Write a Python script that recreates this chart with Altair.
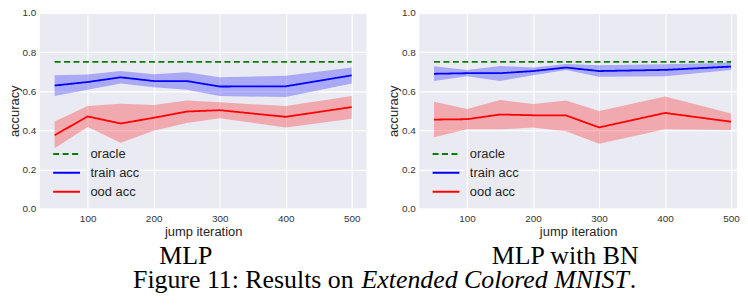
import altair as alt
import pandas as pd

iters = [50, 100, 150, 200, 250, 300, 400, 500]
oracle_acc = 0.75

# MLP
mlp_train = [0.629, 0.647, 0.671, 0.652, 0.652, 0.624, 0.625, 0.681]
mlp_train_hi = [0.682, 0.686, 0.703, 0.687, 0.697, 0.671, 0.679, 0.721]
mlp_train_lo = [0.576, 0.608, 0.640, 0.620, 0.608, 0.575, 0.570, 0.639]
mlp_ood = [0.375, 0.471, 0.435, 0.464, 0.496, 0.503, 0.469, 0.519]
mlp_ood_hi = [0.445, 0.524, 0.536, 0.529, 0.553, 0.543, 0.524, 0.576]
mlp_ood_lo = [0.308, 0.417, 0.336, 0.398, 0.437, 0.462, 0.415, 0.459]

# MLP with BN
bn_train = [0.689, 0.692, 0.692, 0.703, 0.721, 0.703, 0.709, 0.726]
bn_train_hi = [0.728, 0.708, 0.729, 0.721, 0.739, 0.733, 0.738, 0.746]
bn_train_lo = [0.652, 0.677, 0.652, 0.682, 0.709, 0.674, 0.676, 0.708]
bn_ood = [0.455, 0.457, 0.481, 0.477, 0.476, 0.415, 0.489, 0.444]
bn_ood_hi = [0.546, 0.509, 0.555, 0.534, 0.553, 0.499, 0.573, 0.486]
bn_ood_lo = [0.365, 0.405, 0.405, 0.415, 0.395, 0.331, 0.405, 0.402]

series_names = ["oracle", "train acc", "ood acc"]
series_colors = ["green", "blue", "red"]
x_ticks = [100, 200, 300, 400, 500]
y_ticks = [0.0, 0.2, 0.4, 0.6, 0.8, 1.0]

sub_left = "MLP"
sub_right = "MLP with BN"
cap_plain = "Figure 11: Results on"
cap_italic = "Extended Colored MNIST"
cap_end = "."

SANS = "Liberation Sans"
SERIF = "Liberation Serif"

LEG = alt.Legend(
    title=None, orient="none", legendX=19, legendY=134,
    symbolType="M-2,0L2,0", symbolSize=182, symbolStrokeWidth=2,
    labelFont=SANS, labelFontSize=13, labelColor="#262626",
    padding=0, labelOffset=16, rowPadding=4,
)


def panel(train, train_lo, train_hi, ood, ood_lo, ood_hi, xmax, width, texts):
    n = len(iters)
    lines = pd.DataFrame({
        "iter": iters * 3,
        "acc": [oracle_acc] * n + train + ood,
        "series": ["oracle"] * n + ["train acc"] * n + ["ood acc"] * n,
    })
    bands = pd.DataFrame({
        "iter": iters * 2,
        "lo": train_lo + ood_lo,
        "hi": train_hi + ood_hi,
        "series": ["train acc"] * n + ["ood acc"] * n,
    })
    xenc = alt.X(
        "iter:Q",
        scale=alt.Scale(domain=[27.5, xmax], nice=False, zero=False),
        axis=alt.Axis(values=x_ticks, title="jump iteration"),
    )
    yscale = alt.Scale(domain=[0, 1], nice=False)
    yaxis = alt.Axis(values=y_ticks, format=".1f", title="accuracy", labelOverlap=False)
    band = alt.Chart(bands).mark_area(opacity=0.28).encode(
        x=xenc,
        y=alt.Y("lo:Q", scale=yscale, axis=yaxis),
        y2="hi:Q",
        fill=alt.Fill("series:N",
                      scale=alt.Scale(domain=["train acc", "ood acc"], range=["blue", "red"]),
                      legend=None),
    )
    line = alt.Chart(lines).mark_line(strokeWidth=1.8).encode(
        x=xenc,
        y=alt.Y("acc:Q", scale=yscale, axis=yaxis),
        color=alt.Color("series:N",
                        scale=alt.Scale(domain=series_names, range=series_colors),
                        legend=LEG),
        strokeDash=alt.StrokeDash("series:N",
                                  scale=alt.Scale(domain=series_names,
                                                  range=[[6, 3.5], [1, 0], [1, 0]]),
                                  legend=LEG),
    )
    layers = [band, line] + texts
    return alt.layer(*layers).properties(width=width, height=197)


def txt(s, x, y, align, style="normal"):
    return alt.Chart(pd.DataFrame({"t": [s]})).mark_text(
        font=SERIF, fontSize=26, align=align, baseline="alphabetic",
        color="black", fontStyle=style,
    ).encode(text="t:N", x=alt.value(x), y=alt.value(y))


left_texts = [
    txt(sub_left, 147, 253, "center"),
    txt(cap_plain, 316, 277, "right"),
    txt(cap_italic, 324, 277, "left", "italic"),
    txt(cap_end, 594, 277, "left"),
]
right_texts = [txt(sub_right, 147, 253, "center")]

left = panel(mlp_train, mlp_train_lo, mlp_train_hi, mlp_ood, mlp_ood_lo, mlp_ood_hi,
             522.5, 329, left_texts)
right = panel(bn_train, bn_train_lo, bn_train_hi, bn_ood, bn_ood_lo, bn_ood_hi,
              509.0, 320, right_texts)

chart = alt.hconcat(left, right, spacing=53, bounds="flush").resolve_scale(
    color="independent", strokeDash="independent", fill="independent"
).resolve_legend(
    color="independent", strokeDash="independent"
).properties(
    padding={"left": 0, "top": -1, "right": 0, "bottom": 0}
).configure_view(
    fill="#EAEAF2", stroke=None
).configure_axis(
    grid=True, gridColor="white", gridWidth=1.1, domain=False, ticks=False, tickSize=0,
    labelFont=SANS, labelFontSize=10, labelColor="#333333",
    titleFont=SANS, titleFontSize=13, titleFontWeight="normal", titleColor="#262626",
).configure_axisX(
    labelPadding=5, titlePadding=2,
).configure_axisY(
    labelPadding=4, titlePadding=1,
)

chart.save("out.html", embed_options={"renderer": "svg", "actions": False})
